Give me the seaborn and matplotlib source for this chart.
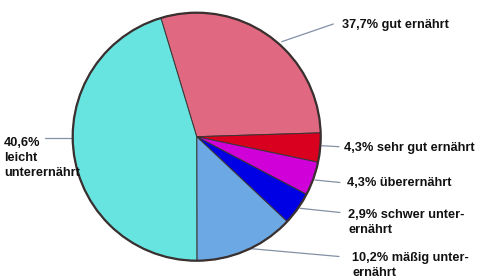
import matplotlib
matplotlib.use("Agg")
import matplotlib.pyplot as plt
import seaborn as sns
from matplotlib.patches import Circle

# Slice shares as drawn in the picture (percent of the full circle, clockwise from top-left)
categories = ["gut ernährt", "sehr gut ernährt", "überernährt",
              "schwer unterernährt", "mäßig unterernährt", "leicht unterernährt"]
drawn_share = [29.2, 3.8, 4.4, 4.3, 13.0, 45.4]
# Values printed in the labels
label_values = ["37,7%", "4,3%", "4,3%", "2,9%", "10,2%", "40,6%"]
colors = ["#e06880", "#d8001e", "#d000d8", "#0000e4", "#6ca8e4", "#68e4e0"]

sns.set_theme(style="white")
plt.rcParams["font.family"] = ["Liberation Sans", "DejaVu Sans"]

W, H = 490, 279
fig = plt.figure(figsize=(W / 100, H / 100), dpi=100)
ax = fig.add_axes([0, 0, 1, 1])
ax.set_xlim(0, W)
ax.set_ylim(0, H)
ax.axis("off")


def P(x, y):
    """pixel (from top-left) -> data coords"""
    return x, H - y


cx, cy = P(196.7, 136.7)
R = 124
ax.pie(drawn_share, colors=colors, startangle=106.8, counterclock=False,
       center=(cx, cy), radius=R, frame=True,
       wedgeprops=dict(edgecolor="#3a3434", linewidth=0.7))
ax.set_xlim(0, W)
ax.set_ylim(0, H)
ax.set_aspect("equal")
ax.axis("off")
ax.add_patch(Circle((cx, cy), R, fill=False, edgecolor="#3a3030", linewidth=1.6, zorder=5))

lc = "#8390a6"
leaders = [((281.7, 41.7), (333.3, 24)),
           ((321.7, 145.7), (339, 146.7)),
           ((315, 180), (340, 182.5)),
           ((300, 208.3), (340, 212.5)),
           ((246.7, 248.3), (339, 256.5)),
           ((45, 138), (72, 138))]
for (a, b) in leaders:
    x0, y0 = P(*a)
    x1, y1 = P(*b)
    ax.plot([x0, x1], [y0, y1], color=lc, linewidth=0.9, zorder=1)

fs = 9.2
texts = [
    (341.5, 28.2, f"{label_values[0]} gut ernährt"),
    (343.5, 151.5, f"{label_values[1]} sehr gut ernährt"),
    (346.7, 186.5, f"{label_values[2]} überernährt"),
    (347.7, 218.0, f"{label_values[3]} schwer unter-"),
    (348.0, 233.0, "ernährt"),
    (351.7, 260.5, f"{label_values[4]} mäßig unter-"),
    (352.0, 276.0, "ernährt"),
    (4.0, 146.0, f"{label_values[5]}"),
    (4.0, 161.0, "leicht"),
    (4.0, 176.0, "unterernährt"),
]
for x, y, s in texts:
    xx, yy = P(x, y)
    ax.text(xx, yy, s, fontsize=fs, fontweight="bold", color="#111111",
            ha="left", va="baseline", zorder=6)

fig.savefig("out.png", dpi=100, facecolor="white")
